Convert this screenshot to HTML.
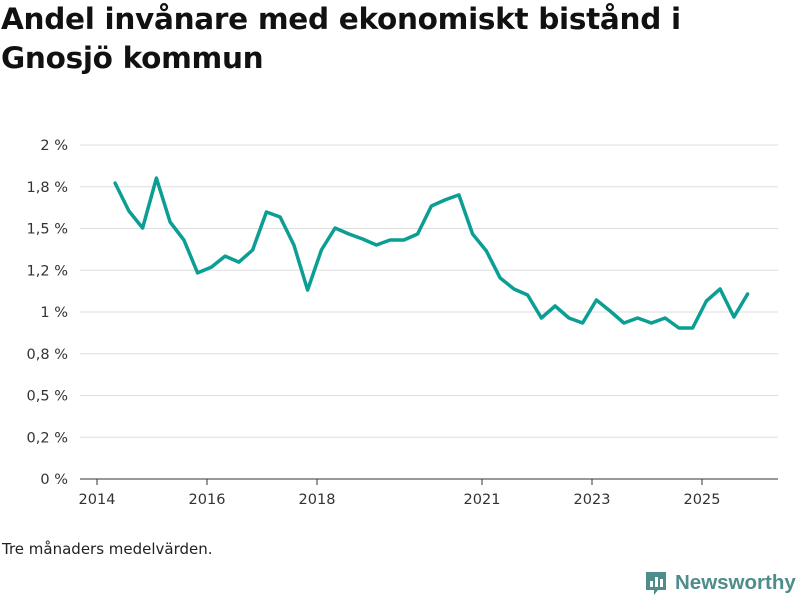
<!DOCTYPE html>
<html><head><meta charset="utf-8"><style>
body{margin:0;background:#fff;font-family:"DejaVu Sans","Liberation Sans",sans-serif;}
#wrap{position:relative;width:800px;height:600px;overflow:hidden;}
h1{position:absolute;left:1px;top:0px;margin:0;font-size:29.5px;line-height:39px;font-weight:bold;color:#111;letter-spacing:-0.3px;}
.note{position:absolute;left:2px;top:540px;font-size:15px;color:#222;}
.logo{position:absolute;left:644px;top:570px;display:flex;align-items:center;font-size:20.5px;font-weight:bold;color:#4e8d8a;font-family:"Liberation Sans",sans-serif;}
</style></head><body><div id="wrap">
<h1>Andel invånare med ekonomiskt bistånd i<br>Gnosjö kommun</h1>
<svg id="chart" width="800" height="600" style="position:absolute;left:0;top:0"></svg>
<div class="note">Tre månaders medelvärden.</div>
<div class="logo"><svg width="24" height="26" style="margin-right:7px"><path d="M2 2h20v18h-8l-4 5v-5H2z" fill="#4e8d8a"/><rect x="6" y="11" width="3" height="6" fill="#fff"/><rect x="11" y="7" width="3" height="10" fill="#fff"/><rect x="16" y="9" width="3" height="8" fill="#fff"/></svg>Newsworthy</div>
</div>
<script>
const yTicks=[0,0.25,0.5,0.75,1,1.25,1.5,1.75,2];
const yTickLabels=["0 %","0,2 %","0,5 %","0,8 %","1 %","1,2 %","1,5 %","1,8 %","2 %"];
const xTicks=[2014,2016,2018,2021,2023,2025];
const startYear=2014.33;
const values=[1.772,1.605,1.503,1.802,1.539,1.431,1.234,1.269,1.335,1.299,1.371,1.599,1.569,1.401,1.132,1.371,1.503,1.467,1.437,1.401,1.431,1.431,1.467,1.635,1.671,1.701,1.467,1.365,1.204,1.138,1.102,0.964,1.036,0.964,0.934,1.072,1.006,0.934,0.964,0.934,0.964,0.904,0.904,1.066,1.138,0.970,1.108];
const NS="http://www.w3.org/2000/svg";
const svg=document.getElementById('chart');
const xS=t=>97+(t-2014)*55;
const yS=v=>479-v*167;
function mk(tag,attrs){const e=document.createElementNS(NS,tag);for(const k in attrs)e.setAttribute(k,attrs[k]);svg.appendChild(e);return e;}
yTicks.forEach((v,i)=>{
  const g=mk('line',{x1:80,x2:778,y1:yS(v),y2:yS(v),stroke:i==0?'#333':'#ddd','stroke-width':1});
  
  
  const t=mk('text',{x:68,y:yS(v)+5,'text-anchor':'end','font-size':14.5,fill:'#333','font-family':'DejaVu Sans, sans-serif'});
  t.textContent=yTickLabels[i];
  
  
});
xTicks.forEach(y=>{
  const l=mk('line',{x1:xS(y),x2:xS(y),y1:479,y2:485,stroke:'#333'});
  
  
  const t=mk('text',{x:xS(y),y:504,'text-anchor':'middle','font-size':14.5,fill:'#333','font-family':'DejaVu Sans, sans-serif'});
  t.textContent=y;
  
  
});
const pts=values.map((v,i)=>xS(startYear+i*0.25).toFixed(1)+','+yS(v).toFixed(1)).join(' ');
const pl=mk('polyline',{points:pts,fill:'none',stroke:'#0b9e94','stroke-width':3.5,'stroke-linejoin':'round','stroke-linecap':'round'});


</script>
</body></html>
